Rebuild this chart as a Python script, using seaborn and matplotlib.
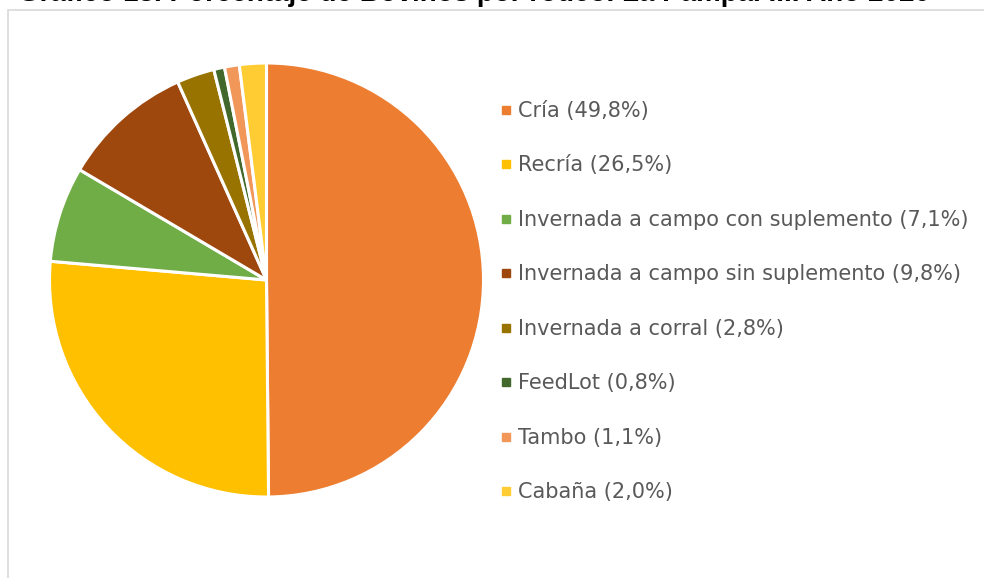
import matplotlib
matplotlib.use("Agg")
import matplotlib.pyplot as plt
from matplotlib.lines import Line2D
from matplotlib.patches import Rectangle
import seaborn as sns

# rodeo categories and share of bovine stock (%)
CATEGORIES = [
    "Cría",
    "Recría",
    "Invernada a campo con suplemento",
    "Invernada a campo sin suplemento",
    "Invernada a corral",
    "FeedLot",
    "Tambo",
    "Cabaña",
]
SHARES = [49.8, 26.5, 7.1, 9.8, 2.8, 0.8, 1.1, 2.0]
COLORS = ["#ED7D31", "#FFC000", "#70AD47", "#9E480E",
          "#997300", "#43682B", "#F1975A", "#FFCD33"]
TITLE = "Gráfico 18. Porcentaje de Bovinos por rodeo. La Pampa. III. Año 2020"

sns.set_theme(style="white")
plt.rcParams["font.family"] = ["DejaVu Sans"]

W, H = 984, 578
fig = plt.figure(figsize=(W / 100, H / 100), dpi=100)
fig.patch.set_facecolor("white")

# chart area frame, partly outside the picture
fig.patches.append(Rectangle((8 / W, -0.1), 1.2, (H - 10) / H + 0.1,
                             transform=fig.transFigure, fill=False,
                             edgecolor="#D9D9D9", linewidth=1.2))

# title, clipped at the top as in the source
fig.text(18 / W, (H - 1.3) / H, TITLE, ha="left", va="baseline",
         fontsize=20, fontweight="bold", color="black",
         family=["Liberation Sans", "DejaVu Sans"])

cx, cy, r = 266.5, 280, 217
ax = fig.add_axes([(cx - r) / W, (H - cy - r) / H, 2 * r / W, 2 * r / H])
wedges, _ = ax.pie(SHARES, colors=COLORS, startangle=90, counterclock=False,
                   radius=1, wedgeprops=dict(edgecolor="white", linewidth=2.2))
ax.set_xlim(-1.0, 1.0)
ax.set_ylim(-1.0, 1.0)
ax.set_aspect("equal")
ax.axis("off")

labels = [f"{c} ({str(v).replace('.', ',')}%)" for c, v in zip(CATEGORIES, SHARES)]
handles = [Line2D([0], [0], marker="s", linestyle="none", markersize=5.5,
                  markerfacecolor=c, markeredgecolor=c) for c in COLORS]
fig.legend(handles, labels, loc="upper left",
           bbox_to_anchor=(500 / W, (H - 101) / H),
           frameon=False, fontsize=15, labelcolor="#595959",
           handlelength=0.55, handletextpad=0.3, labelspacing=1.655,
           borderpad=0, borderaxespad=0)

fig.savefig("out.png", dpi=100, facecolor="white")
